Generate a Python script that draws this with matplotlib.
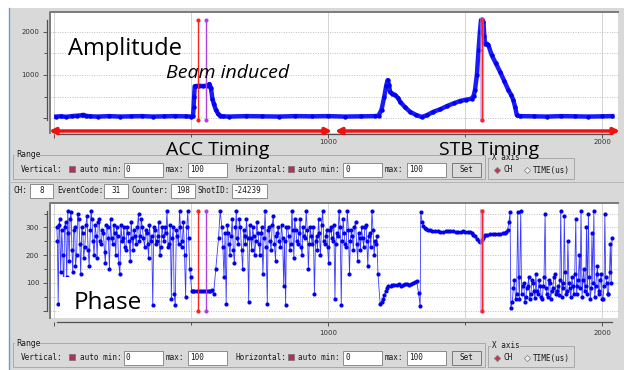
import matplotlib
matplotlib.use("Agg")
import matplotlib.pyplot as plt
from matplotlib.patches import Rectangle, FancyArrowPatch
from matplotlib.lines import Line2D
from matplotlib.ticker import MultipleLocator

# amplitude trace (channel, value)
amp_ch = [8, 25, 45, 65, 85, 100, 107, 115, 130, 160, 200, 240, 280, 320, 360, 400, 440, 480, 500, 507,
          509, 511, 513, 518, 530, 545, 560, 567, 572, 578, 583, 590, 598, 606, 615, 640, 700, 760, 820, 880,
          940, 1000, 1060, 1120, 1170, 1184, 1195, 1205, 1212, 1217, 1222, 1226, 1235, 1245, 1255, 1263, 1280, 1299, 1320, 1342,
          1360, 1384, 1410, 1433, 1460, 1482, 1505, 1524, 1531, 1536, 1543, 1549, 1554, 1558, 1563, 1567, 1570, 1573, 1580, 1585,
          1597, 1612, 1628, 1643, 1658, 1668, 1676, 1683, 1689, 1700, 1750, 1800, 1850, 1900, 1950, 2000, 2037]
amp_val = [40, 45, 35, 50, 60, 70, 80, 60, 45, 40, 50, 40, 45, 50, 40, 45, 50, 45, 40, 50,
           250, 500, 740, 745, 750, 745, 755, 790, 700, 450, 330, 200, 110, 60, 45, 40, 50, 45, 40, 50,
           45, 50, 40, 45, 50, 60, 200, 500, 750, 880, 780, 610, 570, 535, 470, 380, 260, 150, 80, 30,
           70, 150, 210, 280, 350, 400, 430, 455, 520, 650, 1000, 1575, 2000, 2270, 2280, 2225, 1900, 1725, 1720, 1690,
           1460, 1270, 1070, 860, 650, 540, 420, 250, 70, 50, 45, 40, 50, 45, 40, 45, 50]

# phase trace, in segments (noisy / flat stretches)
ph_ch_a = [10, 15, 20, 28, 35, 42, 50, 55, 62, 68, 75, 82, 90, 97, 105, 112, 120, 128, 135, 142,
           150, 157, 165, 172, 180, 187, 195, 202, 210, 218, 225, 232, 240, 248, 255, 262, 270, 278, 285, 292,
           300, 308, 315, 322, 330, 338, 345, 352, 360, 368, 375, 382, 390, 398, 405, 412, 420, 428, 435, 442,
           450, 458, 465, 472, 480, 488, 495, 502]
ph_val_a = [300, 25, 330, 290, 45, 320, 360, 180, 355, 140, 300, 200, 330, 130, 280, 230, 340, 160, 360, 250,
            310, 190, 330, 240, 280, 170, 300, 150, 260, 310, 200, 270, 130, 250, 300, 220, 280, 180, 260, 290,
            240, 350, 270, 300, 230, 280, 190, 250, 20, 290, 250, 320, 230, 270, 300, 360, 240, 40, 300, 20,
            270, 360, 230, 320, 50, 360, 150, 70]
ph_ch_a2 = [12, 18, 24, 32, 38, 46, 52, 58, 65, 72, 78, 86, 94, 101, 108, 116, 124, 132, 138, 146,
            154, 161, 168, 176, 184, 191, 198, 206, 214, 221, 228, 236, 244, 251, 258, 266, 274, 281, 288, 296,
            304, 311, 318, 326, 334, 341, 348, 356, 364, 371, 378, 386, 394, 401, 408, 416, 424, 431, 438, 446,
            454, 461, 468, 476, 484, 491, 498]
ph_val_a2 = [250, 310, 140, 200, 300, 120, 280, 330, 220, 290, 160, 350, 240, 300, 190, 310, 220, 290, 330, 200,
             270, 320, 250, 290, 210, 310, 260, 330, 240, 280, 300, 170, 310, 260, 230, 300, 250, 320, 220, 270,
             300, 250, 330, 260, 290, 240, 310, 270, 300, 240, 270, 200, 300, 250, 280, 230, 310, 260, 60, 290,
             240, 300, 250, 200, 300, 260, 120]
ph_ch_b = [508, 512, 520, 527, 535, 542, 550, 557, 565, 570, 575, 582, 590, 600, 606]
ph_val_b = [72, 71, 70, 70, 70, 72, 71, 70, 69, 71, 75, 60, 150, 260, 360]
ph_ch_c = [612, 620, 628, 635, 642, 650, 658, 665, 672, 680, 688, 695, 702, 710, 718, 725, 732, 740, 748, 755,
           762, 770, 778, 785, 792, 800, 808, 815, 822, 830, 838, 845, 852, 860, 868, 875, 882, 890, 898, 905,
           912, 920, 928, 935, 942, 950, 958, 965, 972, 980, 988, 995, 1002, 1010, 1018, 1025, 1032, 1040, 1048, 1055,
           1062, 1070, 1078, 1085, 1092, 1100, 1108, 1115, 1122, 1130, 1138, 1145, 1152, 1160, 1168, 1175, 1182]
ph_val_c = [300, 120, 25, 280, 200, 330, 170, 360, 240, 300, 150, 270, 330, 30, 260, 300, 200, 320, 240, 280,
            130, 360, 25, 300, 220, 340, 180, 280, 250, 310, 90, 20, 300, 220, 360, 190, 290, 240, 330, 200,
            270, 360, 150, 300, 240, 60, 270, 330, 200, 360, 240, 290, 170, 300, 250, 40, 280, 360, 20, 330,
            240, 360, 130, 290, 220, 320, 180, 260, 300, 230, 310, 160, 280, 360, 200, 240, 130]
ph_ch_c2 = [616, 624, 632, 638, 646, 654, 662, 668, 676, 684, 692, 698, 706, 714, 721, 728, 736, 744, 751, 758,
            766, 774, 781, 788, 796, 804, 811, 818, 826, 834, 841, 848, 856, 864, 871, 878, 886, 894, 901, 908,
            916, 924, 931, 938, 946, 954, 961, 968, 976, 984, 991, 998, 1006, 1014, 1021, 1028, 1036, 1044, 1051, 1058,
            1066, 1074, 1081, 1088, 1096, 1104, 1111, 1118, 1126, 1134, 1141, 1148, 1156, 1164, 1171, 1178]
ph_val_c2 = [230, 280, 310, 240, 270, 220, 300, 260, 330, 220, 290, 240, 260, 310, 220, 270, 250, 280, 200, 300,
             260, 230, 290, 250, 310, 240, 270, 300, 230, 260, 250, 300, 270, 240, 290, 330, 250, 280, 230, 300,
             260, 290, 240, 270, 300, 250, 220, 280, 310, 250, 270, 230, 290, 260, 310, 240, 270, 300, 250, 280,
             230, 290, 250, 270, 300, 240, 280, 220, 260, 300, 250, 270, 230, 290, 250, 270]
ph_ch_d = [1190, 1195, 1200, 1205, 1210, 1215, 1220, 1228, 1235, 1242, 1250, 1258, 1265, 1272, 1280, 1288, 1295,
           1303, 1311, 1317, 1323, 1330, 1336]
ph_val_d = [25, 30, 40, 55, 70, 80, 87, 90, 92, 91, 93, 94, 90, 92, 95, 96, 92, 94, 99, 103, 108, 63, 15]
ph_ch_e = [1338, 1343, 1348, 1353, 1358, 1365, 1372, 1380, 1390, 1400, 1410, 1420, 1430, 1438, 1445, 1455,
           1465, 1475, 1485, 1492, 1500, 1509, 1518, 1524, 1530, 1537, 1545, 1550, 1555, 1560, 1565, 1569,
           1573, 1581, 1590, 1600, 1610, 1619, 1628, 1637, 1645, 1650, 1655, 1660, 1664, 1667]
ph_val_e = [355, 320, 305, 298, 295, 291, 289, 288, 287, 286, 285, 284, 286, 287, 287, 286,
            285, 285, 284, 286, 285, 284, 283, 280, 274, 268, 258, 252, 248, 254, 262, 268,
            272, 274, 275, 276, 276, 277, 277, 279, 280, 284, 290, 320, 355, 10]
ph_ch_f = [1672, 1680, 1688, 1692, 1698, 1703, 1710, 1718, 1725, 1732, 1740, 1748, 1755, 1762, 1770, 1778, 1785, 1792, 1798, 1805,
           1812, 1820, 1828, 1835, 1842, 1849, 1856, 1862, 1868, 1875, 1882, 1890, 1897, 1904, 1910, 1917, 1923, 1930, 1937, 1943,
           1950, 1957, 1963, 1970, 1977, 1983, 1990, 1997, 2003, 2010, 2017, 2023, 2030, 2036]
ph_val_f = [30, 110, 60, 355, 40, 360, 90, 30, 80, 120, 60, 100, 45, 70, 110, 50, 90, 350, 60, 110,
            40, 80, 130, 70, 55, 360, 100, 340, 60, 250, 80, 120, 60, 330, 90, 200, 360, 110, 70, 300,
            350, 40, 280, 360, 90, 160, 60, 130, 40, 350, 100, 60, 240, 260]
ph_ch_f2 = [1676, 1684, 1695, 1706, 1714, 1722, 1729, 1736, 1744, 1752, 1758, 1766, 1774, 1782, 1788, 1795, 1802, 1809, 1816, 1824,
            1831, 1838, 1846, 1853, 1859, 1865, 1872, 1879, 1886, 1893, 1900, 1907, 1913, 1920, 1927, 1933, 1940, 1946, 1953, 1960,
            1966, 1973, 1980, 1987, 1993, 2000, 2007, 2013, 2020, 2027, 2033]
ph_val_f2 = [80, 40, 120, 60, 100, 50, 90, 40, 110, 70, 130, 60, 90, 40, 120, 80, 50, 100, 70, 120,
             60, 90, 110, 50, 80, 140, 70, 100, 50, 90, 130, 60, 110, 80, 50, 150, 90, 60, 120, 80,
             100, 50, 130, 70, 110, 40, 90, 120, 60, 140, 100]

# cursors: channel positions and vertical extents
cursor_ch = [524, 553, 1562]
amp_cursor = [-40, 2280]
ph_cursor = [0, 360]

W, H = 624, 370
BG = "#d9d9d9"
MONO = "DejaVu Sans Mono"


def fx(x):
    return x / W


def fy(y):
    return 1 - y / H


fig = plt.figure(figsize=(6.24, 3.70), dpi=100, facecolor="white")


def rect(x0, y0, x1, y1, fc, ec="none", lw=0.7, z=1):
    fig.add_artist(Rectangle((fx(x0), fy(y1)), (x1 - x0) / W, (y1 - y0) / H, transform=fig.transFigure,
                             facecolor=fc, edgecolor=ec, linewidth=lw, zorder=z))


def line(xs, ys, c, lw=0.7, z=1):
    fig.add_artist(Line2D([fx(x) for x in xs], [fy(y) for y in ys], transform=fig.transFigure,
                          color=c, lw=lw, zorder=z))


def txt(x, y, s, size=5.5, family=MONO, **kw):
    kw.setdefault("va", "center")
    fig.text(fx(x), fy(y), s, fontsize=size, family=family, color="#1a1a1a", zorder=4, **kw)


def entry(x0, x1, yc, s, ha="left"):
    rect(x0, yc - 7, x1, yc + 7, "white", "#8c8c8c", 0.7)
    if ha == "left":
        txt(x0 + 2, yc, s)
    else:
        txt((x0 + x1) / 2, yc, s, ha="center")


def checkbox(x, yc):
    rect(x, yc - 4, x + 6, yc + 2, "#b03060", "#707070", 0.5)


def diamond(x, yc, on):
    fig.add_artist(Line2D([fx(x)], [fy(yc)], transform=fig.transFigure, marker="D", ms=3.2,
                          mfc="#d03050" if on else "#eeeeee", mec="#808080", mew=0.5, zorder=2))


def range_panel(yc):
    rect(13, yc - 15, 485, yc + 9, "none", "#a8a8a8", 0.7)
    rect(15, yc - 18, 40, yc - 12, BG, z=1.5)
    txt(16, yc - 15, "Range", family="DejaVu Sans")
    txt(21, yc, "Vertical:")
    checkbox(69, yc)
    txt(80, yc, "auto min:")
    entry(124, 163, yc, "0")
    txt(166, yc, "max:")
    entry(188, 227, yc, "100")
    txt(235, yc, "Horizontal:")
    checkbox(288, yc)
    txt(298, yc, "auto min:")
    entry(343, 382, yc, "0")
    txt(385, yc, "max:")
    entry(407, 446, yc, "100")
    rect(452, yc - 7, 481, yc + 7, "#dadada", "#7a7a7a", 0.7)
    txt(466.5, yc, "Set", ha="center")
    rect(488, yc - 12, 574, yc + 9, "none", "#a8a8a8", 0.7)
    rect(491, yc - 15, 520, yc - 10, BG, z=1.5)
    txt(492, yc - 13, "X axis")
    diamond(497, yc, True)
    txt(503, yc, "CH")
    diamond(527, yc, False)
    txt(533, yc, "TIME(us)")


# window background
rect(9, 8, 624, 370, BG, z=-5)
line([8.5, 8.5], [8, 370], "#6a9bd1", 1.0, z=-4)

range_panel(170)
range_panel(358)

# status row
line([9, 624], [182.5, 182.5], "#b5b5b5", 0.7)
txt(13, 191, "CH:")
entry(30, 53, 191, "8", ha="center")
txt(57, 191, "EventCode:")
entry(104, 128, 191, "31", ha="center")
txt(132, 191, "Counter:")
entry(171, 195, 191, "198", ha="center")
txt(197, 191, "ShotID:")
entry(232, 267, 191, "-24239")


def style_axes(ax, ylim, major, minor, bounds, xout, xpad):
    ax.set_facecolor("white")
    ax.set_xlim(-15, 2058)
    ax.set_ylim(*ylim)
    for s in ("top", "right"):
        ax.spines[s].set_visible(False)
    ax.spines["left"].set_position(("outward", 2.2))
    ax.spines["bottom"].set_position(("outward", xout))
    ax.spines["left"].set_bounds(*bounds)
    ax.spines["bottom"].set_bounds(10, 2037)
    for s in ("left", "bottom"):
        ax.spines[s].set_color("#505050")
        ax.spines[s].set_linewidth(0.9)
    ax.xaxis.set_major_locator(MultipleLocator(1000))
    ax.xaxis.set_minor_locator(MultipleLocator(500))
    ax.yaxis.set_major_locator(MultipleLocator(major))
    ax.yaxis.set_minor_locator(MultipleLocator(minor))
    ax.tick_params(which="major", direction="out", length=3, width=0.7, color="#505050",
                   labelsize=5, labelcolor="#333333", pad=2.5)
    ax.tick_params(axis="x", which="major", pad=xpad)
    ax.tick_params(which="minor", direction="out", length=2.5, width=0.7, color="#505050")
    ax.xaxis.grid(True, which="both", color="#d4d4d4", lw=0.7)
    ax.yaxis.grid(True, which="both", color="#c0c0c0", lw=0.7, linestyle=(0, (1, 1.5)))
    ax.set_axisbelow(True)
    ax.xaxis.set_major_formatter(lambda v, p: "%d" % v if v > 0 else "")
    ax.yaxis.set_major_formatter(lambda v, p: "%d" % v if v > 0 else "")
    # sunken frame of the plot window
    bb = ax.get_position()
    fig.add_artist(Line2D([bb.x0, bb.x0, bb.x1], [bb.y0, bb.y1, bb.y1], transform=fig.transFigure,
                          color="#7a7a7a", lw=1.4, zorder=1))


def draw_cursors(ax, lo, hi):
    ax.plot([cursor_ch[0]] * 2, [lo, hi], color="#ff2020", lw=1, marker="o", ms=3, mew=0, zorder=4)
    ax.plot([cursor_ch[1]] * 2, [lo, hi], color="#b040e0", lw=1, marker="o", ms=3, mew=0, zorder=4)
    ax.plot([cursor_ch[2]] * 2, [lo, hi], color="#c090f0", lw=3, alpha=0.6, zorder=4)
    ax.plot([cursor_ch[2]] * 2, [lo, hi], color="#ff2020", lw=1, marker="o", ms=3, mew=0, zorder=4)


# amplitude plot
ax1 = fig.add_axes([fx(50), fy(133), 568 / W, 121 / H])
style_axes(ax1, (-340, 2455), 1000, 500, (-40, 2280), 0.5, 1.0)
ax1.plot(amp_ch, amp_val, color="#1a1aff", lw=3.2, marker="o", ms=3.2, mfc="#0000ee", mec="#0000ee",
         mew=0, zorder=3)
draw_cursors(ax1, *amp_cursor)

# phase plot: merge the segments in channel order
ph_pts = sorted(zip(ph_ch_a + ph_ch_a2 + ph_ch_b + ph_ch_c + ph_ch_c2 + ph_ch_d + ph_ch_e + ph_ch_f + ph_ch_f2,
                    ph_val_a + ph_val_a2 + ph_val_b + ph_val_c + ph_val_c2 + ph_val_d + ph_val_e + ph_val_f + ph_val_f2))
ph_ch = [p[0] for p in ph_pts]
ph_val = [p[1] for p in ph_pts]
ax2 = fig.add_axes([fx(50), fy(318), 568 / W, 115 / H])
style_axes(ax2, (-27, 388), 100, 50, (0, 360), 2.9, 2.5)
ax2.plot(ph_ch, ph_val, color="#3a3aff", lw=0.6, marker="o", ms=3.0, mfc="#0000ee", mec="#0000ee",
         mew=0, zorder=3)
draw_cursors(ax2, *ph_cursor)

# annotations pasted over the screenshot
rect(60, 277, 140, 318, "white", z=2)
ann = dict(family="Open Sans", va="baseline", color="black", zorder=5)
fig.text(fx(68), fy(55), "Amplitude", fontsize=17, **ann)
fig.text(fx(166), fy(78), "Beam induced", fontsize=14, style="italic", **ann)
fig.text(fx(166), fy(155), "ACC Timing", fontsize=14, **ann)
fig.text(fx(439), fy(155), "STB Timing", fontsize=14, **ann)
fig.text(fx(74), fy(309), "Phase", fontsize=17.5, **ann)

for x0, x1 in [(49, 332), (335, 620)]:
    fig.add_artist(FancyArrowPatch((fx(x0), fy(131)), (fx(x1), fy(131)), transform=fig.transFigure,
                                   arrowstyle="<|-|>", mutation_scale=9, lw=2.5, color="#f01010",
                                   shrinkA=0, shrinkB=0, zorder=5))

fig.savefig("out.png", dpi=100, facecolor="white")
